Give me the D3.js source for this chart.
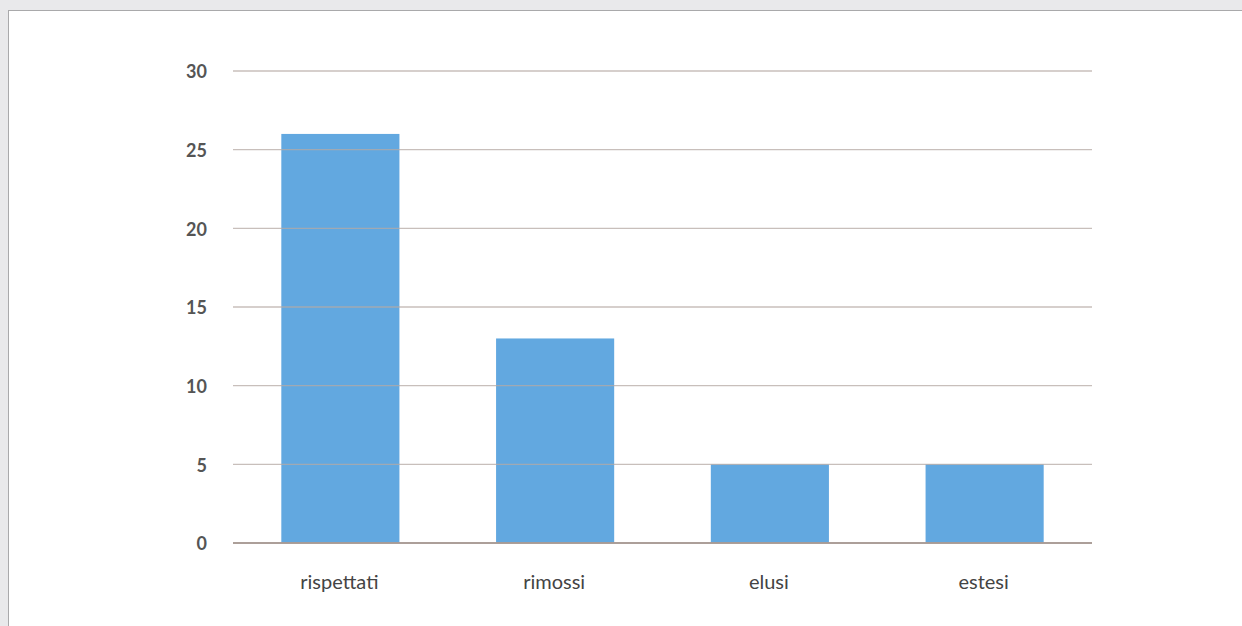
<!DOCTYPE html>
<html>
<head>
<meta charset="utf-8">
<script src="https://cdn.jsdelivr.net/npm/d3@7"></script>
<style>
  body { margin: 0; background: #e9e9eb; }
  svg { display: block; }
</style>
</head>
<body>
<script>
const categories = ['rispettati', 'rimossi', 'elusi', 'estesi'];
const values = [26, 13, 5, 5];
const yTicks = [0, 5, 10, 15, 20, 25, 30];

const width = 1242;
const height = 626;

let svg = d3.select('body')
    .append('svg')
    .attr('width', width)
    .attr('height', height);

// white panel with thin border
svg.append('rect')
    .attr('x', 8.5)
    .attr('y', 10.5)
    .attr('width', width)
    .attr('height', height)
    .attr('fill', '#fff')
    .attr('stroke', '#a9a9ab');

let x = d3.scaleBand()
    .domain(categories)
    .range([233, 1092])
    .paddingInner(0.45)
    .paddingOuter(0.225);

let y = d3.scaleLinear()
    .domain([0, 30])
    .range([543, 71]);

let g = svg.append('g');

// bars
g.selectAll('rect.bar')
    .data(values)
    .enter()
    .append('rect')
    .attr('class', 'bar')
    .attr('x', (d, i) => x(categories[i]))
    .attr('y', d => y(d))
    .attr('width', x.bandwidth())
    .attr('height', d => y(0) - y(d))
    .attr('fill', '#62a8e0');

// gridlines (drawn over bars, partly transparent)
g.selectAll('line.grid')
    .data(yTicks)
    .enter()
    .append('line')
    .attr('class', 'grid')
    .attr('x1', 233)
    .attr('x2', 1092)
    .attr('y1', d => y(d))
    .attr('y2', d => y(d))
    .attr('stroke', d => d === 0 ? '#a89a94' : '#b5a9a4')
    .attr('stroke-opacity', d => d === 0 ? 0.95 : 0.75)
    .attr('stroke-width', d => d === 0 ? 2.2 : 1.4);

// y axis labels
let yAxis = d3.axisLeft(y)
    .tickValues(yTicks)
    .tickSize(0)
    .tickPadding(0);

let ya = svg.append('g')
    .attr('transform', 'translate(207,1)')
    .call(yAxis);
ya.select('.domain').remove();
ya.selectAll('text')
    .attr('font-family', 'Lato, sans-serif')
    .attr('font-size', 18)
    .attr('font-weight', 'bold')
    .attr('fill', '#555');

// x axis labels
let xAxis = d3.axisBottom(x)
    .tickSize(0)
    .tickPadding(0);

let xa = svg.append('g')
    .attr('transform', 'translate(-1,575)')
    .call(xAxis);
xa.select('.domain').remove();
xa.selectAll('text')
    .attr('font-family', 'Lato, sans-serif')
    .attr('font-size', 20)
    .attr('fill', '#444');
</script>
</body>
</html>
